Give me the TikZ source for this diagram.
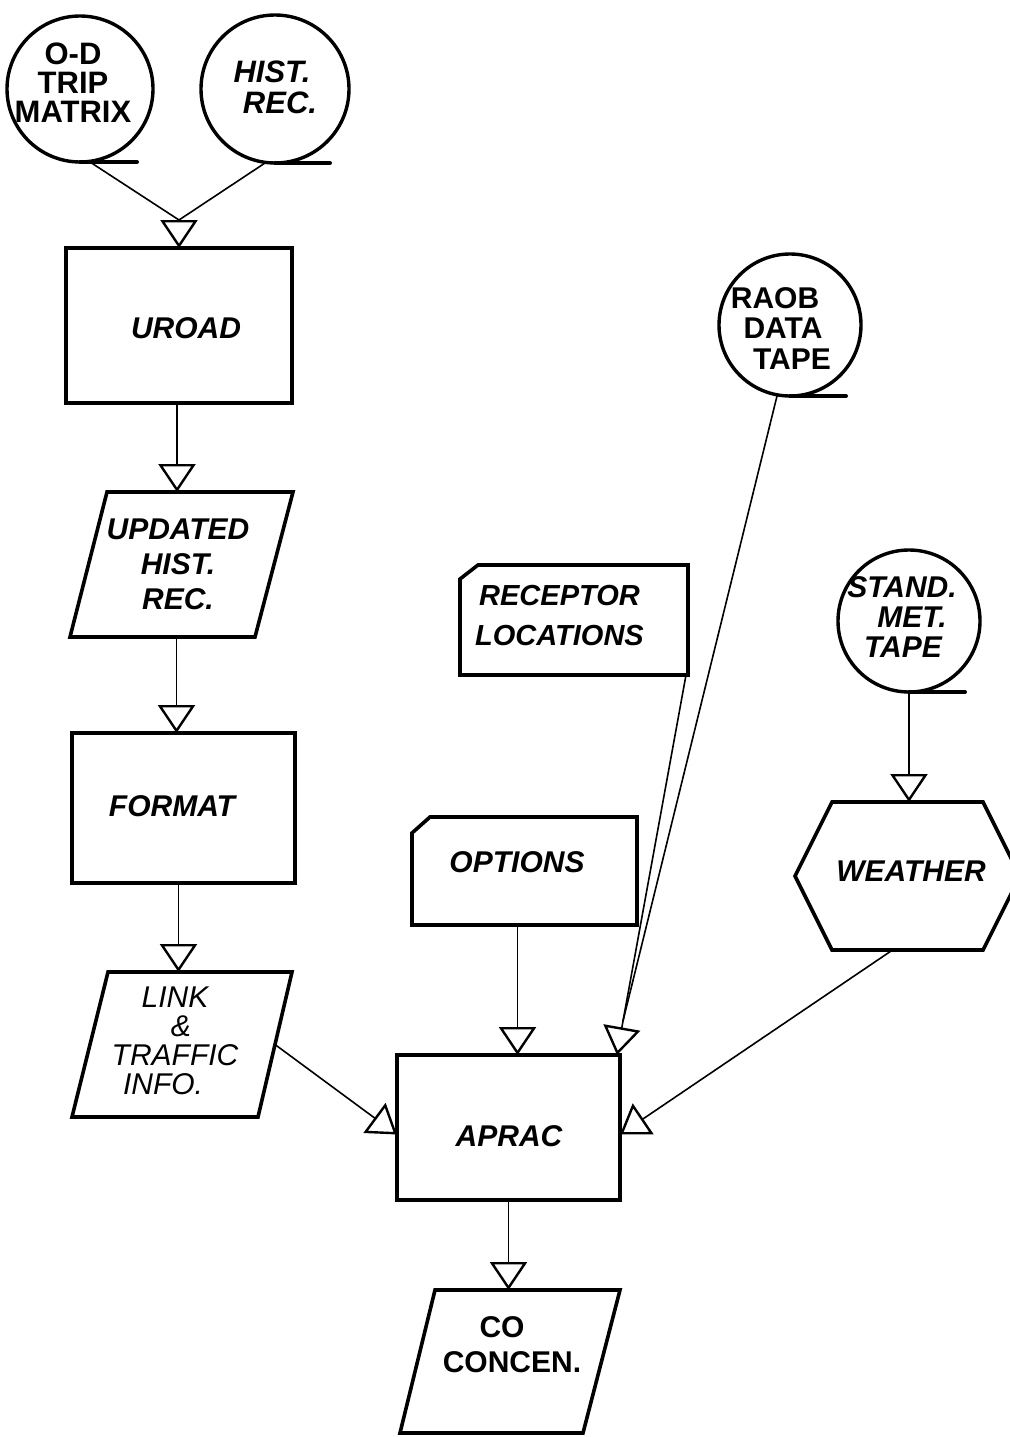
\documentclass[tikz,border=0pt]{standalone}
\usepackage{fontspec}
\setmainfont{Liberation Sans}
\usetikzlibrary{arrows.meta}
\begin{document}
\begin{tikzpicture}[x=1pt,y=-1pt,
  box/.style={draw, line width=3.6pt, inner sep=0pt, outer sep=0pt},
  bbx/.style={draw=none, inner sep=0pt, outer sep=0pt},
  tape/.style={circle, draw, line width=3.4pt, inner sep=0pt, outer sep=0pt},
  tail/.style={line width=4pt, line cap=round},
  con/.style={line width=1.6pt},
  arr/.style={con, -{Triangle[open, length=28pt, width=37pt, line width=2.4pt]}},
  lbl/.style={align=center, inner sep=0pt, font=\fontsize{30}{33}\selectfont\bfseries\itshape},
  lblc/.style={align=center, inner sep=0pt, font=\fontsize{30}{30}\selectfont\bfseries\itshape},
]
\fill[white] (0,0) rectangle (1009,1437);
\useasboundingbox (0,0) rectangle (1009,1437);

% --- tapes (top left)
\node[tape, minimum size=146pt] (od) at (80,89) {};
\node[lblc, font=\fontsize{31}{29}\selectfont\bfseries] (odT) at (73,83) {O-D\\TRIP\\MATRIX};
\draw[tail] (od.south) -- ++(57,0);
\node[tape, minimum size=148pt] (hist) at (275,89) {};
\node[lblc, font=\fontsize{31}{31}\selectfont\bfseries\itshape] (histT) at (276,87.5) {HIST.\hspace*{8pt}\\\hspace*{8pt}REC.};
\draw[tail] (hist.south) -- ++(55,0);

% --- UROAD
\node[box, minimum width=226pt, minimum height=155pt] (uroad) at (179,325.5) {};
\node[lbl] (uroadT) at (186,328) {UROAD};
\coordinate (m1) at ([yshift=28pt]uroad.north);
\draw[con] ([xshift=10pt]od.south) -- (m1);
\draw[con] ([xshift=-10pt]hist.south) -- (m1);
\draw[arr] (m1) -- (uroad.north);

% --- UPDATED HIST. REC.
\node[bbx, minimum width=223pt, minimum height=145pt] (upd) at (181.5,564.5) {};
\draw[box] ([xshift=37pt]upd.north west) -- (upd.north east) -- ([xshift=-38pt]upd.south east) -- (upd.south west) -- cycle;
\node[lbl, font=\fontsize{30}{35}\selectfont\bfseries\itshape] (updT) at (178,564.5) {UPDATED\\HIST.\\REC.};
\draw[arr] ([xshift=-2pt]uroad.south) -- ([xshift=-2pt]uroad.south |- upd.north);

% --- FORMAT
\node[box, minimum width=223pt, minimum height=150pt] (format) at (183.5,808) {};
\node[lbl] (formatT) at (172,806) {FORMAT};
\draw[arr] ([xshift=-5pt]upd.south) -- ([xshift=-5pt]upd.south |- format.north);

% --- LINK & TRAFFIC INFO.
\node[bbx, minimum width=220pt, minimum height=145pt] (link) at (182,1044.5) {};
\draw[box] ([xshift=36pt]link.north west) -- (link.north east) -- ([xshift=-34pt]link.south east) -- (link.south west) -- cycle;
\node[lbl, font=\fontsize{30}{29}\selectfont\itshape] (linkT) at (175,1040.5) {LINK\\\hspace*{12pt}\&\\TRAFFIC\\INFO.\hspace*{24pt}};
\draw[arr] ([xshift=-5pt]format.south) -- ([xshift=-5pt]format.south |- link.north);

% --- RECEPTOR LOCATIONS
\node[bbx, minimum width=228pt, minimum height=110pt] (rec) at (574,620) {};
\draw[box] ([yshift=-14pt]rec.north west) -- ([xshift=18pt]rec.north west) -- (rec.north east) -- (rec.south east) -- (rec.south west) -- cycle;
\node[lbl, font=\fontsize{29}{40}\selectfont\bfseries\itshape] (recT) at (559.5,616) {RECEPTOR\\LOCATIONS};

% --- RAOB DATA TAPE
\node[tape, minimum size=142pt] (raob) at (790,325) {};
\node[lblc, font=\fontsize{30}{30.5}\selectfont\bfseries] (raobT) at (783,328.5) {RAOB\hspace*{16pt}\\DATA\hspace*{6pt}\\\hspace*{18pt}TAPE};
\draw[tail] (raob.south) -- ++(56,0);

% --- STAND. MET. TAPE
\node[tape, minimum size=142pt] (stand) at (909,621) {};
\node[lblc] (standT) at (906,617) {STAND.\hspace*{8pt}\\\hspace*{12pt}MET.\\TAPE\hspace*{6pt}};
\draw[tail] (stand.south) -- ++(56,0);

% --- OPTIONS
\node[bbx, minimum width=225pt, minimum height=108pt] (opt) at (524.5,871) {};
\draw[box] ([yshift=-16pt]opt.north west) -- ([xshift=18pt]opt.north west) -- (opt.north east) -- (opt.south east) -- (opt.south west) -- cycle;
\node[lbl] (optT) at (517,862) {OPTIONS};

% --- WEATHER
\node[bbx, minimum width=225pt, minimum height=148pt] (weather) at (907.5,876) {};
\draw[box] (weather.west) -- ([xshift=37pt]weather.north west) -- ([xshift=-37pt]weather.north east) -- (weather.east) -- ([xshift=-37pt]weather.south east) -- ([xshift=37pt]weather.south west) -- cycle;
\node[lbl] (weatherT) at (911,871) {WEATHER};
\draw[arr] (stand.south) -- (stand.south |- weather.north);

% --- APRAC
\node[box, minimum width=223pt, minimum height=145pt] (aprac) at (508.5,1127.5) {};
\node[lbl] (apracT) at (509,1136) {APRAC};

% --- CO CONCEN.
\node[bbx, minimum width=220pt, minimum height=143pt] (co) at (510,1361.5) {};
\draw[box] ([xshift=35pt]co.north west) -- (co.north east) -- ([xshift=-37pt]co.south east) -- (co.south west) -- cycle;
\node[lbl, font=\fontsize{30}{35}\selectfont\bfseries] (coT) at (508,1344.5) {CO\hspace*{12pt}\\\hspace*{8pt}CONCEN.};

% --- connectors into APRAC
\coordinate (m2) at (623,1021);
\draw[con] ([xshift=-2pt]rec.south east) -- (m2);
\draw[con] ([xshift=-13pt]raob.south) -- (m2);
\draw[arr] (m2) -- ([xshift=-3pt]aprac.north east);
\draw[arr] ([xshift=-7pt]opt.south) -- ([xshift=-7pt]opt.south |- aprac.north);
\draw[arr] ([xshift=-15pt]weather.south) -- ([yshift=-7pt]aprac.east);
\draw[arr] ([xshift=-17pt]link.east) -- ([yshift=-7pt]aprac.west);
\draw[arr] (aprac.south) -- (aprac.south |- co.north);
\end{tikzpicture}
\end{document}
